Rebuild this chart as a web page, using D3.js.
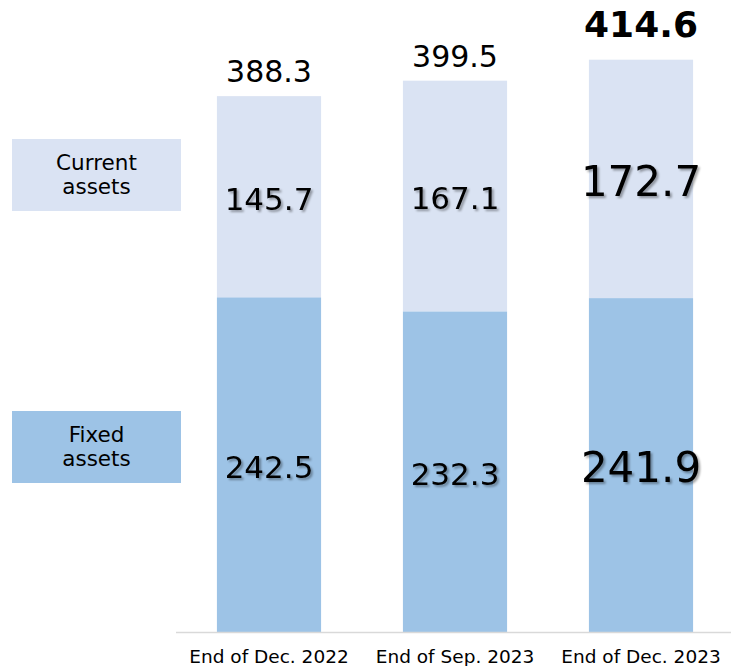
<!DOCTYPE html>
<html lang="en">
<head>
<meta charset="utf-8">
<title>Assets</title>
<style>
  body { margin: 0; background: #fff; }
  text { font-family: "DejaVu Sans", Verdana, sans-serif; }
</style>
</head>
<body>
<div id="chart"></div>
<script src="https://cdnjs.cloudflare.com/ajax/libs/d3/7.8.5/d3.min.js"></script>
<script>
var periods = ["End of Dec. 2022", "End of Sep. 2023", "End of Dec. 2023"];
var fixedAssets = [242.5, 232.3, 241.9];
var currentAssets = [145.7, 167.1, 172.7];
var totals = [388.3, 399.5, 414.6];
var seriesNames = ["Fixed assets", "Current assets"];

var width = 731, height = 666;
var baseY = 632;

var svg = d3.select("#chart").append("svg")
    .attr("width", width)
    .attr("height", height);

// soft shadow for the numbers inside the bars
var filter = svg.append("defs").append("filter")
    .attr("id", "shadow")
    .attr("x", "-20%").attr("y", "-20%")
    .attr("width", "140%").attr("height", "140%");
filter.append("feDropShadow")
    .attr("dx", 2).attr("dy", 2)
    .attr("stdDeviation", 1.2)
    .attr("flood-color", "#000")
    .attr("flood-opacity", 0.35);

var x = d3.scaleBand()
    .domain(periods)
    .range([176, 734])
    .paddingInner(0.44)
    .paddingOuter(0.22);

var y = d3.scaleLinear()
    .domain([0, 388.3])
    .range([baseY, 96]);

var colors = { "Fixed assets": "#9DC3E6", "Current assets": "#DAE3F3" };

var rows = periods.map(function(p, i) {
  return { period: p, "Fixed assets": fixedAssets[i], "Current assets": currentAssets[i], total: totals[i], i: i };
});
var stack = d3.stack().keys(seriesNames)(rows);

// bars
stack.forEach(function(layer) {
  svg.append("g").selectAll("rect")
    .data(layer)
    .enter().append("rect")
      .attr("x", function(d) { return x(d.data.period); })
      .attr("y", function(d) { return y(d[1]); })
      .attr("width", x.bandwidth())
      .attr("height", function(d) { return y(d[0]) - y(d[1]); })
      .attr("fill", colors[layer.key]);
});

// axis line
svg.append("line")
    .attr("x1", 176).attr("x2", width)
    .attr("y1", baseY + 0.5).attr("y2", baseY + 0.5)
    .attr("stroke", "#d9d9d9")
    .attr("stroke-width", 1.5);

// category labels
var xAxis = svg.append("g")
    .attr("transform", "translate(0," + baseY + ")")
    .call(d3.axisBottom(x).tickSize(0).tickPadding(0));
xAxis.select(".domain").remove();
xAxis.selectAll("text")
    .attr("y", 31)
    .attr("dy", 0)
    .attr("font-size", 18.5)
    .attr("fill", "#000")
    .style("font-family", "DejaVu Sans, Verdana, sans-serif");

// segment values
function segSize(d) { return d.data.i === 2 ? 42 : 31; }
stack.forEach(function(layer) {
  svg.append("g").selectAll("text")
    .data(layer)
    .enter().append("text")
      .attr("x", function(d) { return x(d.data.period) + x.bandwidth() / 2; })
      .attr("y", function(d) {
        return (y(d[0]) + y(d[1])) / 2 + segSize(d) * 0.36 + 2;
      })
      .attr("text-anchor", "middle")
      .attr("font-size", segSize)
      .attr("fill", "#000")
      .attr("filter", "url(#shadow)")
      .text(function(d) { return (d[1] - d[0]).toFixed(1); });
});

// totals
svg.append("g").selectAll("text")
  .data(rows)
  .enter().append("text")
    .attr("x", function(d) { return x(d.period) + x.bandwidth() / 2; })
    .attr("y", function(d) { return y(d.total) - (d.i === 2 ? 23 : 14); })
    .attr("text-anchor", "middle")
    .attr("font-size", function(d) { return d.i === 2 ? 36 : 30; })
    .attr("font-weight", function(d) { return d.i === 2 ? "bold" : "normal"; })
    .attr("fill", "#000")
    .text(function(d) { return d.total.toFixed(1); });

// legend boxes on the left
var legend = [
  { name: "Current assets", lines: ["Current", "assets"], top: 139 },
  { name: "Fixed assets", lines: ["Fixed", "assets"], top: 411 }
];
var lg = svg.append("g").selectAll("g")
  .data(legend)
  .enter().append("g");
lg.append("rect")
    .attr("x", 12)
    .attr("y", function(d) { return d.top; })
    .attr("width", 169)
    .attr("height", 72)
    .attr("fill", function(d) { return colors[d.name]; });
lg.each(function(d) {
  d3.select(this).selectAll("text")
    .data(d.lines)
    .enter().append("text")
      .attr("x", 96.5)
      .attr("y", function(t, j) { return d.top + 31 + j * 24; })
      .attr("text-anchor", "middle")
      .attr("font-size", 21.5)
      .attr("fill", "#000")
      .text(function(t) { return t; });
});
</script>
</body>
</html>
